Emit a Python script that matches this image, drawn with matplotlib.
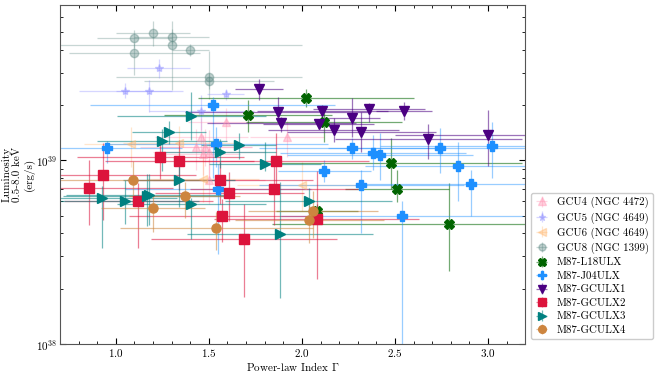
import numpy as np
import matplotlib.pyplot as plt
from matplotlib.ticker import LogLocator, MultipleLocator, NullFormatter

plt.rcParams['font.family'] = 'serif'
plt.rcParams['font.serif'] = ['cmr10']
plt.rcParams['mathtext.fontset'] = 'cm'
plt.rcParams['axes.formatter.use_mathtext'] = True

# luminosities in units of 1e39 erg/s
gcu4_gamma = [1.59, 1.46, 1.43, 1.48, 1.50, 1.47, 1.92, 1.50]
gcu4_gerr = [0.2, 0.25, 0.3, 0.25, 0.3, 0.2, 0.2, 0.3]
gcu4_lum = [1.62, 1.34, 1.18, 1.18, 1.11, 1.08, 1.34, 0.78]
gcu4_lo = [0.35, 0.3, 0.3, 0.25, 0.3, 0.25, 0.3, 0.2]
gcu4_hi = [0.3, 0.35, 0.3, 0.3, 0.35, 0.3, 0.3, 0.25]

gcu5_gamma = [1.23, 1.05, 1.18, 1.46, 1.59]
gcu5_gerr = [0.17, 0.25, 0.18, 0.28, 0.1]
gcu5_lum = [3.16, 2.38, 2.38, 1.86, 2.28]
gcu5_lo = [0.35, 0.2, 0.55, 0.4, 0.15]
gcu5_hi = [0.4, 0.25, 0.35, 0.4, 0.15]

gcu6_gamma = [1.08, 1.34, 1.47, 2.00]
gcu6_gerr = [0.25, 0.3, 0.3, 0.35]
gcu6_lum = [1.22, 1.24, 0.79, 0.73]
gcu6_lo = [0.3, 0.3, 0.2, 0.2]
gcu6_hi = [0.3, 0.3, 0.25, 0.25]

gcu8_gamma = [1.10, 1.10, 1.20, 1.30, 1.30, 1.40, 1.50, 1.50]
gcu8_gerr = [0.2, 0.35, 0.2, 0.2, 0.7, 0.1, 0.5, 0.35]
gcu8_lum = [4.6, 3.85, 4.9, 4.67, 4.25, 4.0, 2.83, 2.69]
gcu8_lo = [0.5, 0.94, 0.7, 0.4, 1.85, 0.3, 0.4, 0.55]
gcu8_hi = [0.5, 0.5, 0.8, 0.5, 1.5, 0.3, 1.1, 0.3]

l18_gamma = [1.71, 2.02, 2.12, 2.48, 2.51, 2.79, 2.08]
l18_gerr = [0.45, 0.58, 0.42, 0.7, 0.28, 0.95, 0.22]
l18_lum = [1.76, 2.17, 1.61, 0.97, 0.70, 0.45, 0.53]
l18_lo = [0.33, 0.22, 0.35, 0.27, 0.11, 0.2, 0.05]
l18_hi = [0.37, 0.27, 0.2, 0.35, 0.18, 0.3, 0.05]

j04_gamma = [0.955, 1.52, 1.54, 2.12, 1.55, 2.27, 2.38, 2.42, 2.74, 3.02, 2.84, 2.91, 2.32, 2.54]
j04_gerr = [0.4, 0.66, 0.6, 0.25, 0.5, 0.5, 0.5, 0.5, 0.6, 0.6, 0.5, 0.6, 0.55, 0.65]
j04_lum = [1.17, 2.0, 1.22, 0.87, 0.70, 1.17, 1.09, 1.07, 1.17, 1.19, 0.93, 0.74, 0.73, 0.50]
j04_lo = [0.2, 1.2, 0.3, 0.11, 0.39, 0.15, 0.2, 0.29, 0.32, 0.39, 0.33, 0.24, 0.33, 0.49]
j04_hi = [0.1, 0.2, 0.3, 0.13, 0.25, 0.15, 0.28, 0.33, 0.33, 0.43, 0.33, 0.14, 0.15, 0.1]

gculx1_gamma = [1.77, 1.87, 1.89, 2.11, 2.09, 2.17, 2.27, 2.32, 2.36, 2.55, 2.68, 3.00]
gculx1_gerr = [0.13, 0.5, 0.4, 0.35, 0.3, 0.35, 0.15, 0.4, 0.3, 0.15, 0.5, 0.5]
gculx1_lum = [2.43, 1.82, 1.60, 1.85, 1.57, 1.46, 1.70, 1.42, 1.89, 1.85, 1.30, 1.37]
gculx1_lo = [0.3, 0.1, 0.17, 0.15, 0.1, 0.2, 0.36, 0.31, 0.27, 0.2, 0.29, 0.44]
gculx1_hi = [0.34, 0.4, 0.12, 0.15, 0.1, 0.24, 0.47, 0.4, 0.16, 0.23, 0.27, 0.51]

gculx2_gamma = [0.93, 0.855, 1.12, 1.56, 1.61, 1.57, 1.69, 1.85, 2.08, 1.24, 1.34, 1.86]
gculx2_gerr = [0.5, 0.45, 0.4, 0.5, 0.4, 0.5, 0.5, 0.45, 0.55, 0.45, 0.4, 0.5]
gculx2_lum = [0.835, 0.706, 0.603, 0.778, 0.666, 0.499, 0.371, 0.695, 0.477, 1.04, 0.99, 0.99]
gculx2_lo = [0.36, 0.26, 0.27, 0.2, 0.2, 0.14, 0.19, 0.25, 0.25, 0.25, 0.3, 0.29]
gculx2_hi = [0.4, 0.3, 0.15, 0.2, 0.2, 0.12, 0.21, 0.25, 0.4, 0.25, 0.3, 0.41]

gculx3_gamma = [1.405, 1.286, 1.25, 1.66, 1.56, 1.80, 1.338, 0.927, 1.048, 1.165, 1.18, 1.405, 2.036, 1.884]
gculx3_gerr = [0.4, 0.2, 0.35, 0.2, 0.3, 0.3, 0.3, 0.4, 0.4, 0.45, 0.45, 0.4, 0.45, 0.5]
gculx3_lum = [1.75, 1.43, 1.27, 1.21, 1.11, 0.959, 0.778, 0.622, 0.60, 0.638, 0.644, 0.575, 0.603, 0.398]
gculx3_lo = [0.46, 0.2, 0.4, 0.2, 0.2, 0.08, 0.22, 0.29, 0.15, 0.2, 0.2, 0.2, 0.1, 0.22]
gculx3_hi = [0.6, 0.2, 0.2, 0.2, 0.2, 0.3, 0.22, 0.1, 0.18, 0.2, 0.2, 0.05, 0.1, 0.36]

gculx4_gamma = [1.09, 1.37, 1.20, 1.54, 2.06, 2.04]
gculx4_gerr = [0.4, 0.3, 0.28, 0.52, 0.35, 0.4]
gculx4_lum = [0.785, 0.638, 0.549, 0.426, 0.528, 0.474]
gculx4_lo = [0.2, 0.15, 0.14, 0.1, 0.15, 0.12]
gculx4_hi = [0.2, 0.12, 0.09, 0.1, 0.15, 0.1]

fig = plt.figure(figsize=(6.59, 3.74), dpi=100)
ax = fig.add_axes([0.091, 0.08, 0.706, 0.907])


def draw(g, ge, l, lo, hi, color, marker, label, ms, alpha, bar_alpha):
    l = np.array(l) * 1e39
    yerr = [np.array(lo) * 1e39, np.array(hi) * 1e39]
    c = ax.errorbar(g, l, xerr=ge, yerr=yerr, fmt=marker, color=color, ms=ms,
                    elinewidth=0.9, capsize=0, label=label, alpha=alpha)
    for b in c[2]:
        b.set_alpha(bar_alpha)
    return c


draw(gcu8_gamma, gcu8_gerr, gcu8_lum, gcu8_lo, gcu8_hi, '#5f8a85', 'o', 'GCU8 (NGC 1399)', 6, 0.4, 0.35)
draw(gcu5_gamma, gcu5_gerr, gcu5_lum, gcu5_lo, gcu5_hi, '#8a8aff', '*', 'GCU5 (NGC 4649)', 6, 0.4, 0.35)
draw(gcu4_gamma, gcu4_gerr, gcu4_lum, gcu4_lo, gcu4_hi, '#ff8fb0', '^', 'GCU4 (NGC 4472)', 6, 0.4, 0.35)
draw(gcu6_gamma, gcu6_gerr, gcu6_lum, gcu6_lo, gcu6_hi, '#ffb870', '<', 'GCU6 (NGC 4649)', 6, 0.4, 0.35)
draw(l18_gamma, l18_gerr, l18_lum, l18_lo, l18_hi, '#006400', 'X', 'M87-L18ULX', 6.5, 1, 0.55)
draw(j04_gamma, j04_gerr, j04_lum, j04_lo, j04_hi, '#1e90ff', 'P', 'M87-J04ULX', 6.5, 1, 0.45)
draw(gculx1_gamma, gculx1_gerr, gculx1_lum, gculx1_lo, gculx1_hi, '#4b0082', 'v', 'M87-GCULX1', 6.5, 1, 0.55)
draw(gculx2_gamma, gculx2_gerr, gculx2_lum, gculx2_lo, gculx2_hi, '#dc143c', 's', 'M87-GCULX2', 6.5, 1, 0.55)
draw(gculx3_gamma, gculx3_gerr, gculx3_lum, gculx3_lo, gculx3_hi, '#008080', '>', 'M87-GCULX3', 6.5, 1, 0.55)
draw(gculx4_gamma, gculx4_gerr, gculx4_lum, gculx4_lo, gculx4_hi, '#cd853f', 'o', 'M87-GCULX4', 6.5, 1, 0.55)

ax.set_yscale('log')
ax.set_xlim(0.7, 3.2)
ax.set_ylim(1e38, 7e39)
ax.xaxis.set_major_locator(MultipleLocator(0.5))
ax.xaxis.set_minor_locator(MultipleLocator(0.1))
ax.yaxis.set_major_locator(LogLocator(base=10))
ax.yaxis.set_minor_locator(LogLocator(base=10, subs=np.arange(2, 10)))
ax.yaxis.set_minor_formatter(NullFormatter())
ax.tick_params(which='both', direction='in', top=True, right=True, labelsize=8, pad=2)
ax.tick_params(which='major', length=4)
ax.tick_params(which='minor', length=2)
for s in ax.spines.values():
    s.set_color('#555555')

ax.set_xlabel(r'Power-law Index $\Gamma$', fontsize=8, labelpad=1)
ax.set_ylabel('Luminosity\n0.5-8.0 keV\n(erg/s)', fontsize=8, linespacing=1.1)
ax.yaxis.set_label_coords(-0.055, 0.5)

h, lab = ax.get_legend_handles_labels()
order = ['GCU4 (NGC 4472)', 'GCU5 (NGC 4649)', 'GCU6 (NGC 4649)', 'GCU8 (NGC 1399)',
         'M87-L18ULX', 'M87-J04ULX', 'M87-GCULX1', 'M87-GCULX2', 'M87-GCULX3', 'M87-GCULX4']
hd = dict(zip(lab, h))
ax.legend([hd[k] for k in order], order, loc='lower left', bbox_to_anchor=(1.005, 0.005),
          fontsize=7.8, labelspacing=0.36, handlelength=1.2, handletextpad=0.8,
          borderpad=0.4, borderaxespad=0.3, framealpha=1, edgecolor='#cccccc', markerscale=0.85)

fig.savefig('out.png', dpi=100)
